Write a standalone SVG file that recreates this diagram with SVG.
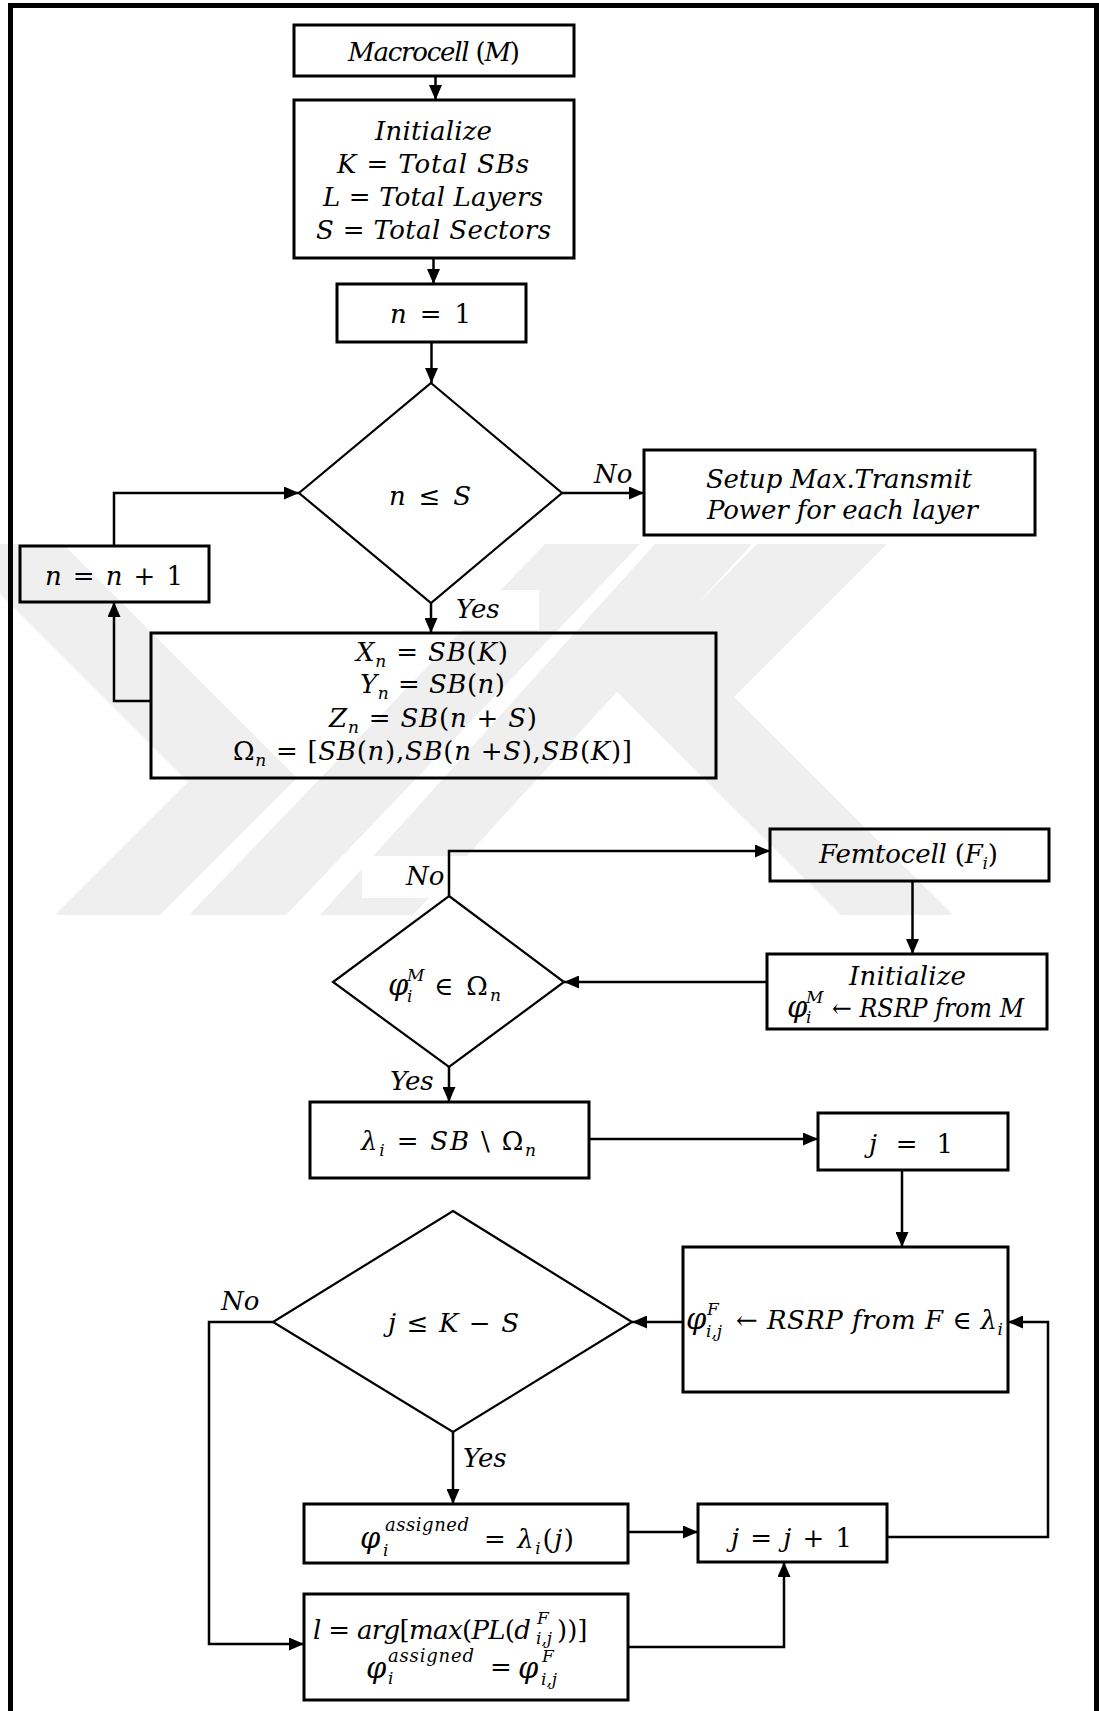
<svg xmlns="http://www.w3.org/2000/svg" width="1099" height="1711" viewBox="0 0 1099 1711">
<style>
text{font-family:"DejaVu Serif","Liberation Serif",serif;font-style:italic;font-size:26px;fill:#000}
.s{font-size:17px}
.a{font-size:18px}
.p{font-size:29px}
.u{font-style:normal}
.box{fill:none;stroke:#000;stroke-width:3}
.dia{fill:none;stroke:#000;stroke-width:2.2}
.con{fill:none;stroke:#000;stroke-width:2.5}
.wm{fill:#efefef}
</style>
<defs>
<marker id="ah" markerUnits="userSpaceOnUse" markerWidth="15" markerHeight="13" refX="15" refY="6.5" orient="auto">
<path d="M0,0 L15,6.5 L0,13 z" fill="#000"/>
</marker>
</defs>
<rect x="0" y="0" width="1099" height="1711" fill="#fff"/>
<g id="watermark">
<polygon class="wm" points="-50,544 63,544 297,778 160,915 55,915 188,782"/>
<polygon class="wm" points="545,544 640,544 286,915 189,915"/>
<polygon class="wm" points="655,544 752,544 413,915 320,915"/>
<polygon class="wm" points="757,544 887,544 734,697 953,915 841,915 613,688"/>
<rect x="418" y="590" width="121" height="40" fill="#fff"/>
<rect x="362" y="856" width="123" height="42" fill="#fff"/>
</g>
<rect x="10.5" y="5.5" width="1086" height="1720" fill="none" stroke="#000" stroke-width="5"/>
<g id="connectors">
<path class="con" d="M435.5,76 V100" marker-end="url(#ah)"/>
<path class="con" d="M433.5,258 V284" marker-end="url(#ah)"/>
<path class="con" d="M431.5,342 V383" marker-end="url(#ah)"/>
<path class="con" d="M562,493 H644" marker-end="url(#ah)"/>
<path class="con" d="M431,603 V633" marker-end="url(#ah)"/>
<path class="con" d="M151,701 H114 V602" marker-end="url(#ah)"/>
<path class="con" d="M114,546 V493 H299" marker-end="url(#ah)"/>
<path class="con" d="M449,896 V851 H770" marker-end="url(#ah)"/>
<path class="con" d="M912.5,881 V954" marker-end="url(#ah)"/>
<path class="con" d="M767,982 H564" marker-end="url(#ah)"/>
<path class="con" d="M449,1067 V1102" marker-end="url(#ah)"/>
<path class="con" d="M589,1139 H818" marker-end="url(#ah)"/>
<path class="con" d="M902,1170 V1247" marker-end="url(#ah)"/>
<path class="con" d="M683,1322 H632" marker-end="url(#ah)"/>
<path class="con" d="M273,1322 H209 V1644 H304" marker-end="url(#ah)"/>
<path class="con" d="M453,1432 V1504" marker-end="url(#ah)"/>
<path class="con" d="M628,1532 H698" marker-end="url(#ah)"/>
<path class="con" d="M887,1537 H1048 V1322 H1008" marker-end="url(#ah)"/>
<path class="con" d="M628,1647 H784 V1562" marker-end="url(#ah)"/>
<text x="594" y="483">No</text>
<text x="456" y="618">Yes</text>
<text x="406" y="885">No</text>
<text x="390" y="1090">Yes</text>
<text x="221" y="1310">No</text>
<text x="463" y="1467">Yes</text>
</g>
<g id="macrocell">
<rect class="box" x="294" y="25" width="280" height="51"/>
<text x="348" y="61" textLength="172" lengthAdjust="spacing">Macrocell <tspan class="u">(</tspan>M<tspan class="u">)</tspan></text>
</g>
<g id="init1">
<rect class="box" x="294" y="100" width="280" height="158"/>
<text x="375" y="140" textLength="117" lengthAdjust="spacing">Initialize</text>
<text x="337" y="173" textLength="192" lengthAdjust="spacing">K <tspan class="u">=</tspan> Total SBs</text>
<text x="323" y="206" textLength="220" lengthAdjust="spacing">L <tspan class="u">=</tspan> Total Layers</text>
<text x="316" y="239" textLength="235" lengthAdjust="spacing">S <tspan class="u">=</tspan> Total Sectors</text>
</g>
<g id="n1">
<rect class="box" x="337" y="284" width="189" height="58"/>
<text x="390" y="323" textLength="81" lengthAdjust="spacing">n <tspan class="u">= 1</tspan></text>
</g>
<g id="dec1">
<polygon class="dia" points="431,383 562,493 431,603 299,493"/>
<text x="389" y="505" textLength="82" lengthAdjust="spacing">n <tspan class="u">≤</tspan> S</text>
</g>
<g id="setup">
<rect class="box" x="644" y="450" width="391" height="85"/>
<text x="706" y="488" textLength="266" lengthAdjust="spacing">Setup Max.Transmit</text>
<text x="707" y="519" textLength="271" lengthAdjust="spacing">Power for each layer</text>
</g>
<g id="inc-n">
<rect class="box" x="20" y="546" width="189" height="56"/>
<text x="45" y="585" textLength="138" lengthAdjust="spacing">n <tspan class="u">=</tspan> n <tspan class="u">+ 1</tspan></text>
</g>
<g id="assign-sb">
<rect class="box" x="151" y="633" width="565" height="145"/>
<text x="356" y="661" textLength="152" lengthAdjust="spacing">X<tspan class="s" dy="6">n</tspan><tspan dy="-6"> <tspan class="u">=</tspan> SB<tspan class="u">(</tspan>K<tspan class="u">)</tspan></tspan></text>
<text x="360" y="693" textLength="145" lengthAdjust="spacing">Y<tspan class="s" dy="6">n</tspan><tspan dy="-6"> <tspan class="u">=</tspan> SB<tspan class="u">(</tspan>n<tspan class="u">)</tspan></tspan></text>
<text x="329" y="727" textLength="208" lengthAdjust="spacing">Z<tspan class="s" dy="6">n</tspan><tspan dy="-6"> <tspan class="u">=</tspan> SB<tspan class="u">(</tspan>n <tspan class="u">+</tspan> S<tspan class="u">)</tspan></tspan></text>
<text x="233" y="760" textLength="399" lengthAdjust="spacing"><tspan class="u">Ω</tspan><tspan class="s" dy="6">n</tspan><tspan dy="-6"> <tspan class="u">= [</tspan>SB<tspan class="u">(</tspan>n<tspan class="u">),</tspan>SB<tspan class="u">(</tspan>n <tspan class="u">+</tspan>S<tspan class="u">),</tspan>SB<tspan class="u">(</tspan>K<tspan class="u">)]</tspan></tspan></text>
</g>
<g id="femtocell">
<rect class="box" x="770" y="829" width="279" height="52"/>
<text x="819" y="863" textLength="179" lengthAdjust="spacing">Femtocell <tspan class="u">(</tspan>F<tspan class="s" dy="6">i</tspan><tspan class="u" dy="-6">)</tspan></text>
</g>
<g id="init2">
<rect class="box" x="767" y="954" width="280" height="75"/>
<text x="849" y="985" textLength="117" lengthAdjust="spacing">Initialize</text>
<text class="p" x="787" y="1017">φ</text>
<text class="s" x="806" y="1003">M</text>
<text class="s" x="806" y="1023">i</text>
<text x="832" y="1017" font-size="24" textLength="192" lengthAdjust="spacingAndGlyphs"><tspan class="u">←</tspan> RSRP from M</text>
</g>
<g id="dec2">
<polygon class="dia" points="449,896 564,982 449,1067 333,982"/>
<text class="p" x="388" y="995">φ</text>
<text class="s" x="407" y="981">M</text>
<text class="s" x="407" y="1002">i</text>
<text x="434" y="995" textLength="67" lengthAdjust="spacing"><tspan class="u">∈ Ω</tspan><tspan class="s" dy="6">n</tspan></text>
</g>
<g id="lambda">
<rect class="box" x="310" y="1102" width="279" height="76"/>
<text x="361" y="1150" textLength="175" lengthAdjust="spacing">λ<tspan class="s" dy="6">i</tspan><tspan dy="-6"> <tspan class="u">=</tspan> SB <tspan class="u">\ Ω</tspan></tspan><tspan class="s" dy="6">n</tspan></text>
</g>
<g id="j1">
<rect class="box" x="818" y="1113" width="190" height="57"/>
<text x="869" y="1153" textLength="84" lengthAdjust="spacing">j <tspan class="u">=  1</tspan></text>
</g>
<g id="rsrp-f">
<rect class="box" x="683" y="1247" width="325" height="145"/>
<text class="p" x="686" y="1329">φ</text>
<text class="s" x="707" y="1315">F</text>
<text class="s" x="706" y="1337">i,j</text>
<text x="736" y="1329" textLength="267" lengthAdjust="spacing"><tspan class="u">←</tspan> RSRP from F <tspan class="u">∈</tspan> λ<tspan class="s" dy="6">i</tspan></text>
</g>
<g id="dec3">
<polygon class="dia" points="453,1211 632,1322 453,1432 273,1322"/>
<text x="388" y="1332" textLength="131" lengthAdjust="spacing">j <tspan class="u">≤</tspan> K <tspan class="u">−</tspan> S</text>
</g>
<g id="assigned">
<rect class="box" x="304" y="1504" width="324" height="59"/>
<text class="p" x="360" y="1548">φ</text>
<text class="a" x="385" y="1531" textLength="84" lengthAdjust="spacing">assigned</text>
<text class="s" x="383" y="1556">i</text>
<text x="484" y="1548" textLength="90" lengthAdjust="spacing"><tspan class="u">=</tspan> λ<tspan class="s" dy="6">i</tspan><tspan class="u" dy="-6">(</tspan>j<tspan class="u">)</tspan></text>
</g>
<g id="jinc">
<rect class="box" x="698" y="1504" width="189" height="58"/>
<text x="731" y="1547" textLength="121" lengthAdjust="spacing">j <tspan class="u">=</tspan> j <tspan class="u">+ 1</tspan></text>
</g>
<g id="pathloss">
<rect class="box" x="304" y="1594" width="324" height="106"/>
<text x="313" y="1639" font-size="24" textLength="218" lengthAdjust="spacing">l <tspan class="u">=</tspan> arg<tspan class="u">[</tspan>max<tspan class="u">(</tspan>PL<tspan class="u">(</tspan>d</text>
<text class="s" x="537" y="1624">F</text>
<text class="s" x="536" y="1644">i,j</text>
<text class="u" x="557" y="1639" font-size="25">))]</text>
<text class="p" x="366" y="1678">φ</text>
<text class="a" x="388" y="1662" textLength="86" lengthAdjust="spacing">assigned</text>
<text class="s" x="388" y="1684">i</text>
<text x="490" y="1676" class="u">=</text>
<text class="p" x="518" y="1678">φ</text>
<text class="s" x="542" y="1662">F</text>
<text class="s" x="541" y="1685">i,j</text>
</g>
</svg>
